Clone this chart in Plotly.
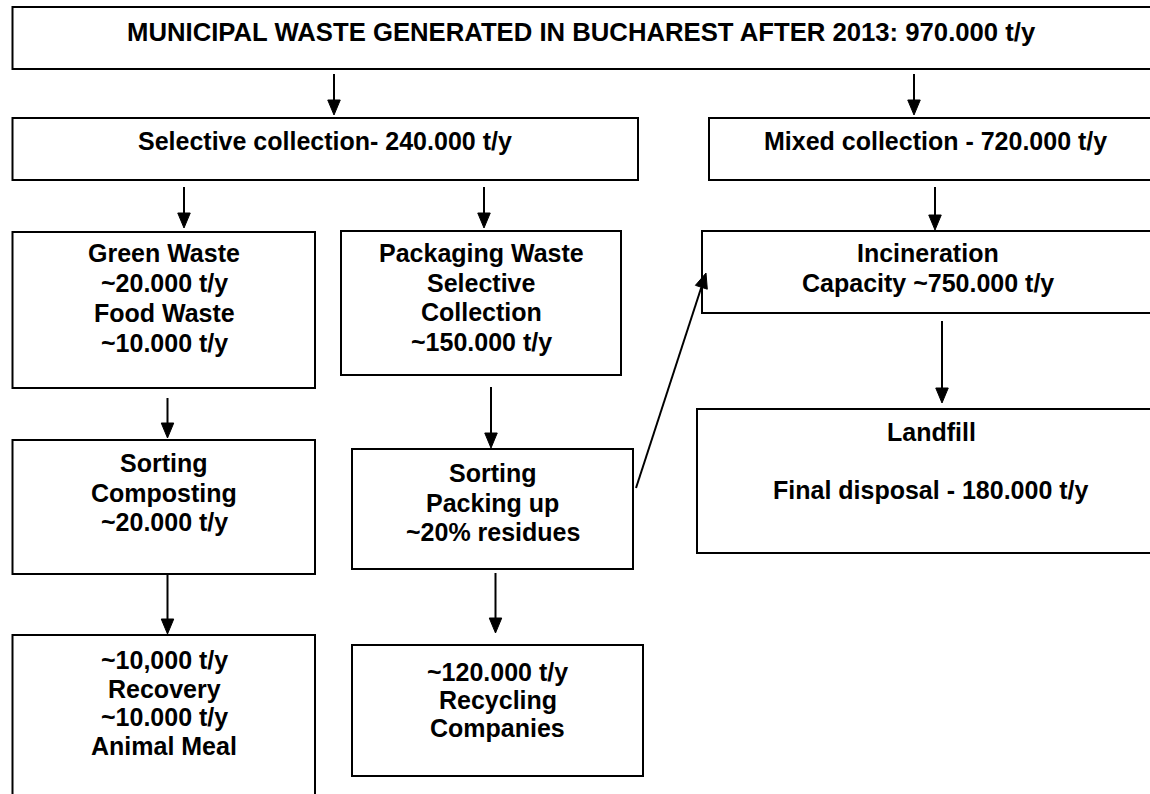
import plotly.graph_objects as go

# ---------------- data: flowchart content ----------------
node_ids = ["total", "selective", "mixed", "green", "packaging", "incineration",
            "composting", "sorting", "landfill", "recovery", "recycling"]

node_lines = [
    ["MUNICIPAL WASTE GENERATED IN BUCHAREST AFTER 2013: 970.000 t/y"],
    ["Selective collection- 240.000 t/y"],
    ["Mixed collection - 720.000 t/y"],
    ["Green Waste", "~20.000 t/y", "Food Waste", "~10.000 t/y"],
    ["Packaging Waste", "Selective", "Collection", "~150.000 t/y"],
    ["Incineration", "Capacity ~750.000 t/y"],
    ["Sorting", "Composting", "~20.000 t/y"],
    ["Sorting", "Packing up", "~20% residues"],
    ["Landfill", "", "Final disposal - 180.000 t/y"],
    ["~10,000 t/y", "Recovery", "~10.000 t/y", "Animal Meal"],
    ["~120.000 t/y", "Recycling", "Companies"],
]

edges = [
    ("total", "selective"), ("total", "mixed"),
    ("selective", "green"), ("selective", "packaging"),
    ("mixed", "incineration"),
    ("green", "composting"), ("packaging", "sorting"),
    ("sorting", "incineration"), ("incineration", "landfill"),
    ("composting", "recovery"), ("sorting", "recycling"),
]

# ---------------- layout (pixel positions on the page) ----------------
W, H = 1150, 794
box_rect = {                      # x0, y0, x1, y1
    "total":        (12.5, 7, 1153, 69),
    "selective":    (12.5, 118, 638, 180),
    "mixed":        (709, 118, 1162, 180),
    "green":        (12.5, 232, 315, 388),
    "packaging":    (341, 231, 621, 375),
    "incineration": (702, 231, 1160, 313),
    "composting":   (12.5, 440, 315, 574),
    "sorting":      (352, 449, 633, 569),
    "landfill":     (697, 409, 1164, 553),
    "recovery":     (12.5, 635, 315, 805),
    "recycling":    (352, 645, 643, 776),
}
text_pos = {                      # center x, first line y, line spacing, font size
    "total":        (581, 32, 30, 25.7),
    "selective":    (325, 141, 30, 25),
    "mixed":        (935.5, 141, 30, 25),
    "green":        (164, 253, 30, 25),
    "packaging":    (481, 253, 29.7, 25),
    "incineration": (928, 253, 30, 25),
    "composting":   (164, 463, 29.5, 25),
    "sorting":      (492.5, 473, 29.5, 25),
    "landfill":     (931, 432, 29, 25),
    "recovery":     (164, 660, 28.5, 25),
    "recycling":    (497.5, 672, 28, 25),
}
arrow_xy = {                      # start x, start y, tip x, tip y
    ("total", "selective"):        (334, 74, 334, 115),
    ("total", "mixed"):            (914, 74, 914, 115),
    ("selective", "green"):        (184, 187, 184, 228),
    ("selective", "packaging"):    (484, 187, 484, 228),
    ("mixed", "incineration"):     (935, 187, 935, 230),
    ("green", "composting"):       (167.5, 398, 167.5, 438),
    ("packaging", "sorting"):      (491, 387, 491, 448),
    ("sorting", "incineration"):   (636, 488, 706, 273),
    ("incineration", "landfill"):  (942, 321, 942, 403),
    ("composting", "recovery"):    (167.5, 574, 167.5, 634),
    ("sorting", "recycling"):      (495.5, 573, 495.5, 633),
}
HEAD_LEN, HEAD_W = 15, 12.5
LINE_COLOR = "#000000"
FONT_FAMILY = "Liberation Sans, Arial, sans-serif"

fig = go.Figure()
shapes, annotations = [], []

for nid, lines in zip(node_ids, node_lines):
    x0, y0, x1, y1 = box_rect[nid]
    shapes.append(dict(type="rect", xref="x", yref="y", x0=x0, y0=y0, x1=x1, y1=y1,
                       line=dict(color=LINE_COLOR, width=2), fillcolor="rgba(0,0,0,0)"))
    cx, fy, sp, fs = text_pos[nid]
    for i, ln in enumerate(lines):
        if not ln:
            continue
        annotations.append(dict(x=cx, y=fy + i * sp, xref="x", yref="y", text=f"<b>{ln}</b>",
                                showarrow=False, xanchor="center", yanchor="middle",
                                font=dict(family=FONT_FAMILY, size=fs, color="#000000")))

for e in edges:
    sx, sy, tx, ty = arrow_xy[e]
    dx, dy = tx - sx, ty - sy
    L = (dx * dx + dy * dy) ** 0.5
    ux, uy = dx / L, dy / L
    bx, by = tx - ux * HEAD_LEN, ty - uy * HEAD_LEN
    px, py = -uy, ux
    shapes.append(dict(type="line", xref="x", yref="y", x0=sx, y0=sy, x1=bx, y1=by,
                       line=dict(color=LINE_COLOR, width=2)))
    path = (f"M {tx},{ty} L {bx + px * HEAD_W / 2},{by + py * HEAD_W / 2} "
            f"L {bx - px * HEAD_W / 2},{by - py * HEAD_W / 2} Z")
    shapes.append(dict(type="path", xref="x", yref="y", path=path,
                       fillcolor=LINE_COLOR, line=dict(color=LINE_COLOR, width=1)))

fig.update_layout(
    width=W, height=H,
    margin=dict(l=0, r=0, t=0, b=0),
    paper_bgcolor="white", plot_bgcolor="white",
    xaxis=dict(range=[0, W], visible=False, fixedrange=True),
    yaxis=dict(range=[H, 0], visible=False, fixedrange=True),
    shapes=shapes, annotations=annotations,
    showlegend=False,
)

fig.write_html("out.html", config={"displayModeBar": False},
               post_script="document.body.style.margin='0px';document.body.style.overflow='hidden';")
